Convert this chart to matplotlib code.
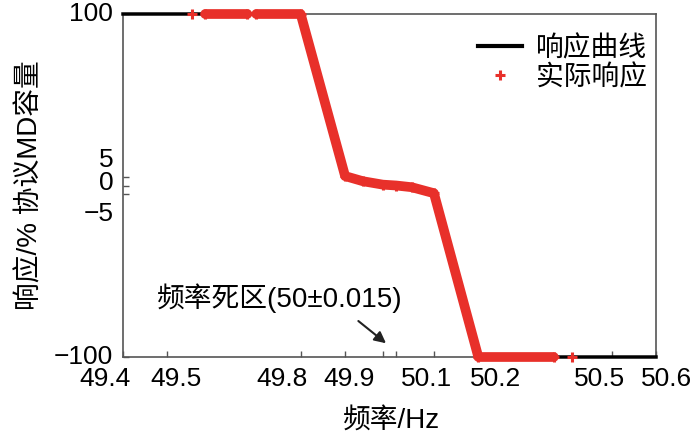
import numpy as np
import matplotlib
matplotlib.use("Agg")
import matplotlib.pyplot as plt
from matplotlib.lines import Line2D

plt.rcParams['font.family'] = ['Liberation Sans', 'Noto Sans CJK SC']
plt.rcParams['axes.unicode_minus'] = True

# response curve (black)
curve_freq = [49.4, 49.8, 49.9, 49.985, 50.015, 50.1, 50.2, 50.6]
curve_resp = [100, 100, 5, 0, 0, -5, -100, -100]

# actual response (red), nan = gap in the recorded points
act_freq = [49.555, np.nan, 49.585, 49.68, np.nan, 49.70, 49.80, 49.90, 49.94,
            49.985, 50.015, 50.05, 50.10, 50.20, 50.37, np.nan, 50.41]
act_resp = [100, np.nan, 100, 100, np.nan, 100, 100, 5.5, 2.5,
            0.5, 0, -1, -4.5, -100, -100, np.nan, -100]

x_ticks = [49.4, 49.5, 49.8, 49.9, 49.985, 50.015, 50.1, 50.2, 50.5, 50.6]
x_labels = ['49.4', '49.5', '49.8', '49.9', '', '', '50.1', '50.2', '50.5', '50.6']
x_label_shift = [-18, 9, -19, 4, 0, 0, -7, 17, -12, 11]   # px, as in the original
y_ticks = [100, 5, 0, -5, -100]
y_labels = ['100', '5', '0', '\u22125', '\u2212100']
y_label_shift = [0, 17, 3, -20, 0]

fig = plt.figure(figsize=(7, 4.37), dpi=100)
ax = fig.add_axes([123/700, 1-357/437, (656-123)/700, (357-14)/437])

ax.plot(curve_freq, curve_resp, color='black', lw=2.5, zorder=3, clip_on=False)
ax.plot(act_freq, act_resp, color='#e8302a', lw=7, marker='+', ms=7, mew=2.2,
        solid_capstyle='round', zorder=4, clip_on=False)

ax.set_xlim(49.4, 50.6)
ax.set_ylim(-100, 100)
ax.set_xticks(x_ticks)
ax.set_xticklabels([])
ax.set_yticks(y_ticks)
ax.set_yticklabels([])
ax.tick_params(direction='in', length=4, width=1, colors='#555555')

for v, lab, dx in zip(x_ticks, x_labels, x_label_shift):
    ax.annotate(lab, xy=(v, 0), xycoords=('data', 'axes fraction'),
                xytext=(dx * 0.72, -7), textcoords='offset points',
                ha='center', va='top', fontsize=19)
for v, lab, dy in zip(y_ticks, y_labels, y_label_shift):
    ax.annotate(lab, xy=(0, v), xycoords=('axes fraction', 'data'),
                xytext=(-7, dy * 0.72), textcoords='offset points',
                ha='right', va='center', fontsize=19)

for s in ax.spines.values():
    s.set_color('#555555')
    s.set_linewidth(1.2)

ax.set_xlabel('频率/Hz', fontsize=20)
ax.xaxis.set_label_coords((392-123)/533, -(421-357)/343, transform=ax.transAxes)
ax.set_ylabel('响应/% 协议MD容量', fontsize=20)
ax.yaxis.set_label_coords(-(123-30)/533, 0.5, transform=ax.transAxes)
ax.xaxis.label.set_va('center')
ax.yaxis.label.set_va('center')

ax.text(49.753, -66, '频率死区(50±0.015)', fontsize=20, ha='center', va='center')
ax.annotate('', xy=(49.997, -93), xytext=(49.925, -78),
            arrowprops=dict(arrowstyle='-|>', color='#222222', lw=1.5, mutation_scale=17))

handles = [Line2D([], [], color='black', lw=3),
           Line2D([], [], color='#e8302a', ls='none', marker='+', ms=7, mew=2.2)]
ax.legend(handles, ['响应曲线', '实际响应'], loc='upper right', frameon=False,
          fontsize=20, handlelength=1.6, handletextpad=0.5, labelspacing=0.1,
          borderaxespad=0.2, bbox_to_anchor=(1.015, 0.985))

fig.savefig('out.png', dpi=100)
